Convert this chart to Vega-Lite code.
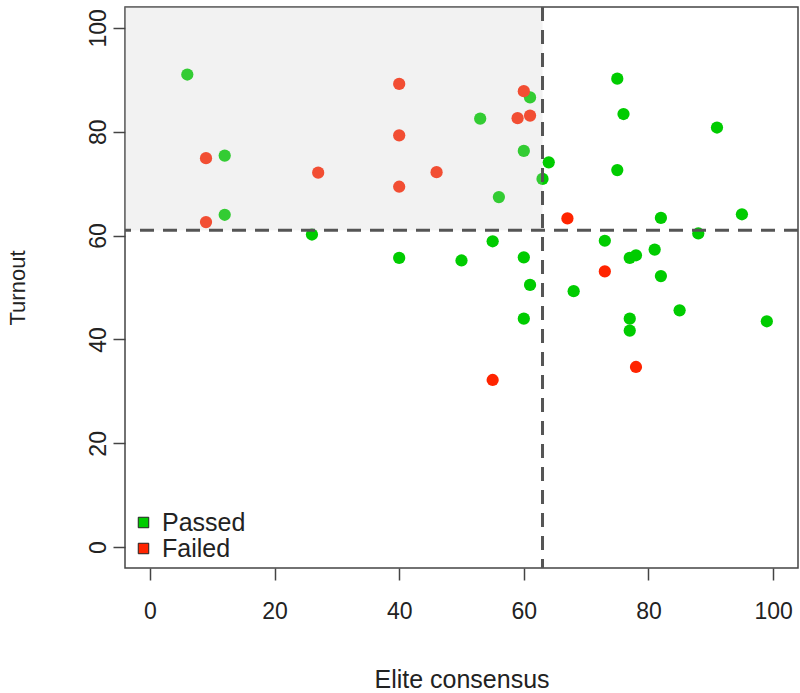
{
  "$schema": "https://vega.github.io/schema/vega-lite/v6.json",
  "width": 673,
  "height": 561,
  "autosize": {"type": "none"},
  "padding": {"left": 125, "top": 7, "right": 2, "bottom": 125},
  "background": "white",
  "config": {
    "view": {"stroke": "#444", "strokeWidth": 1.5},
    "font": "Liberation Sans",
    "axis": {"grid": false, "domain": false, "tickColor": "#444", "tickWidth": 1.5, "tickSize": 12, "labelFont": "Liberation Sans", "titleFont": "Liberation Sans", "labelColor": "#222", "titleColor": "#222", "labelFontSize": 23, "titleFontSize": 22, "titleFontWeight": "normal"}
  },
  "datasets": {
    "pts": [
      {"elite": 6, "turnout": 91.0, "result": "Passed"},
      {"elite": 12, "turnout": 75.4, "result": "Passed"},
      {"elite": 12, "turnout": 64.0, "result": "Passed"},
      {"elite": 26, "turnout": 60.2, "result": "Passed"},
      {"elite": 61, "turnout": 86.6, "result": "Passed"},
      {"elite": 53, "turnout": 82.5, "result": "Passed"},
      {"elite": 60, "turnout": 76.3, "result": "Passed"},
      {"elite": 64, "turnout": 74.1, "result": "Passed"},
      {"elite": 63, "turnout": 70.9, "result": "Passed"},
      {"elite": 56, "turnout": 67.4, "result": "Passed"},
      {"elite": 55, "turnout": 58.9, "result": "Passed"},
      {"elite": 40, "turnout": 55.7, "result": "Passed"},
      {"elite": 50, "turnout": 55.2, "result": "Passed"},
      {"elite": 60, "turnout": 55.8, "result": "Passed"},
      {"elite": 61, "turnout": 50.5, "result": "Passed"},
      {"elite": 75, "turnout": 90.2, "result": "Passed"},
      {"elite": 76, "turnout": 83.4, "result": "Passed"},
      {"elite": 91, "turnout": 80.8, "result": "Passed"},
      {"elite": 75, "turnout": 72.6, "result": "Passed"},
      {"elite": 82, "turnout": 63.4, "result": "Passed"},
      {"elite": 95, "turnout": 64.1, "result": "Passed"},
      {"elite": 88, "turnout": 60.4, "result": "Passed"},
      {"elite": 73, "turnout": 59.0, "result": "Passed"},
      {"elite": 81, "turnout": 57.3, "result": "Passed"},
      {"elite": 77, "turnout": 55.7, "result": "Passed"},
      {"elite": 78, "turnout": 56.2, "result": "Passed"},
      {"elite": 82, "turnout": 52.2, "result": "Passed"},
      {"elite": 68, "turnout": 49.3, "result": "Passed"},
      {"elite": 60, "turnout": 44.0, "result": "Passed"},
      {"elite": 77, "turnout": 44.0, "result": "Passed"},
      {"elite": 85, "turnout": 45.6, "result": "Passed"},
      {"elite": 77, "turnout": 41.7, "result": "Passed"},
      {"elite": 99, "turnout": 43.5, "result": "Passed"},
      {"elite": 9, "turnout": 74.9, "result": "Failed"},
      {"elite": 27, "turnout": 72.1, "result": "Failed"},
      {"elite": 9, "turnout": 62.6, "result": "Failed"},
      {"elite": 40, "turnout": 89.2, "result": "Failed"},
      {"elite": 60, "turnout": 87.8, "result": "Failed"},
      {"elite": 59, "turnout": 82.6, "result": "Failed"},
      {"elite": 61, "turnout": 83.1, "result": "Failed"},
      {"elite": 40, "turnout": 79.3, "result": "Failed"},
      {"elite": 46, "turnout": 72.2, "result": "Failed"},
      {"elite": 40, "turnout": 69.4, "result": "Failed"},
      {"elite": 67, "turnout": 63.3, "result": "Failed"},
      {"elite": 73, "turnout": 53.1, "result": "Failed"},
      {"elite": 78, "turnout": 34.7, "result": "Failed"},
      {"elite": 55, "turnout": 32.2, "result": "Failed"}
    ],
    "region": [{"x1": -4, "x2": 63, "y1": 61, "y2": 104}],
    "vline": [{"elite": 63}],
    "hline": [{"turnout": 61}]
  },
  "layer": [
    {
      "data": {"name": "pts"},
      "mark": {"type": "circle", "size": 150, "opacity": 1},
      "encoding": {
        "x": {"field": "elite", "type": "quantitative", "scale": {"domain": [-4, 104], "nice": false, "zero": false},
              "axis": {"values": [0, 20, 40, 60, 80, 100], "title": "Elite consensus", "titleFontSize": 25, "labelPadding": 20, "titlePadding": 44}},
        "y": {"field": "turnout", "type": "quantitative", "scale": {"domain": [-4, 104], "nice": false, "zero": false},
              "axis": {"values": [0, 20, 40, 60, 80, 100], "title": "Turnout", "labelAngle": -90, "labelAlign": "center", "labelBaseline": "bottom", "labelPadding": 3, "titlePadding": 58}},
        "color": {"field": "result", "type": "nominal", "scale": {"domain": ["Passed", "Failed"], "range": ["#00cc00", "#ff2400"]},
                  "legend": {"title": null, "orient": "none", "legendX": 6, "legendY": 503, "symbolType": "square", "symbolSize": 110, "symbolStrokeColor": "#222", "symbolStrokeWidth": 1, "symbolOpacity": 1, "labelFontSize": 25, "labelFont": "Liberation Sans", "labelColor": "#222", "labelOffset": 6, "rowPadding": 0}},
        "order": {"field": "result", "sort": "descending"}
      }
    },
    {
      "data": {"name": "region"},
      "mark": {"type": "rect", "color": "#cccccc", "opacity": 0.25},
      "encoding": {
        "x": {"field": "x1", "type": "quantitative"},
        "x2": {"field": "x2"},
        "y": {"field": "y1", "type": "quantitative"},
        "y2": {"field": "y2"}
      }
    },
    {
      "data": {"name": "vline"},
      "mark": {"type": "rule", "color": "#555", "strokeWidth": 3, "strokeDash": [14, 9]},
      "encoding": {"x": {"field": "elite", "type": "quantitative"}}
    },
    {
      "data": {"name": "hline"},
      "mark": {"type": "rule", "color": "#555", "strokeWidth": 3, "strokeDash": [14, 9]},
      "encoding": {"y": {"field": "turnout", "type": "quantitative"}}
    }
  ]
}
